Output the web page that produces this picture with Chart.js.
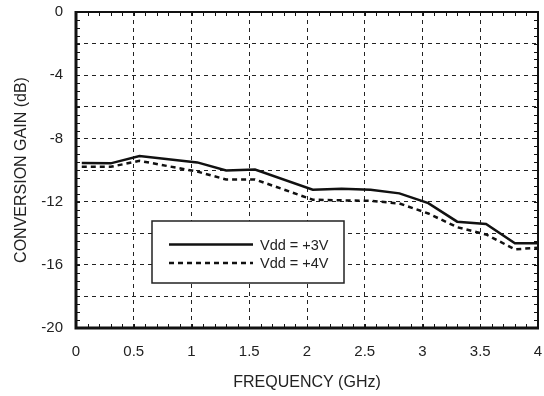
<!DOCTYPE html>
<html>
<head>
<meta charset="utf-8">
<script src="https://cdn.jsdelivr.net/npm/chart.js@4/dist/chart.umd.min.js"></script>
<style>
  html, body { margin: 0; padding: 0; background: #fff; }
  #wrap { width: 544px; height: 396px; }
</style>
</head>
<body>
<div id="wrap"><canvas id="gainChart" width="544" height="396"></canvas></div>
<script>
// valores
const freqGHz = [0.05, 0.3, 0.55, 1.05, 1.3, 1.55, 2.05, 2.3, 2.55, 2.8, 3.05, 3.3, 3.55, 3.8, 4.0];
const gain3V = [-9.55, -9.58, -9.12, -9.52, -10.03, -9.97, -11.25, -11.18, -11.25, -11.48, -12.1, -13.27, -13.42, -14.64, -14.64];
const gain4V = [-9.8, -9.8, -9.42, -10.1, -10.6, -10.6, -11.88, -11.92, -11.95, -12.12, -12.75, -13.62, -14.08, -15.02, -14.92];
const seriesLabels = ['Vdd = +3V', 'Vdd = +4V'];
const xTickLabels = ['0', '0.5', '1', '1.5', '2', '2.5', '3', '3.5', '4'];
const yTickLabels = ['0', '-4', '-8', '-12', '-16', '-20'];

const FONT = "'Liberation Sans', Arial, Helvetica, sans-serif";

function toPoints(xs, ys) {
  return xs.map((x, i) => ({ x: x, y: ys[i] }));
}

// moldura com marcas menores + legenda dentro da área
const framePlugin = {
  id: 'frame',
  afterDatasetsDraw(chart) {
    const ctx = chart.ctx;
    const ca = chart.chartArea;
    const xs = chart.scales.x;
    const ys = chart.scales.y;
    ctx.save();
    ctx.strokeStyle = '#111';
    ctx.lineWidth = 1;
    ctx.setLineDash([]);
    // marcas menores
    ctx.beginPath();
    for (let i = 1; i < 40; i++) {
      const px = Math.round(xs.getPixelForValue(i / 10)) + 0.5;
      ctx.moveTo(px, ca.bottom); ctx.lineTo(px, ca.bottom - 4);
      ctx.moveTo(px, ca.top); ctx.lineTo(px, ca.top + 4);
    }
    for (let i = 1; i < 40; i++) {
      const py = Math.round(ys.getPixelForValue(-i / 2)) + 0.5;
      ctx.moveTo(ca.left, py); ctx.lineTo(ca.left + 4, py);
      ctx.moveTo(ca.right, py); ctx.lineTo(ca.right - 4, py);
    }
    ctx.stroke();

    // caixa
    ctx.lineWidth = 2;
    ctx.strokeRect(ca.left, ca.top, ca.right - ca.left, ca.bottom - ca.top);
    ctx.lineWidth = 3;
    ctx.beginPath();
    ctx.moveTo(ca.left, ca.top - 1);
    ctx.lineTo(ca.left, ca.bottom);
    ctx.lineTo(ca.right + 1, ca.bottom);
    ctx.stroke();

    // legenda
    const bx = ca.left + 76, by = ca.top + 209, bw = 192, bh = 62;
    ctx.fillStyle = '#fff';
    ctx.fillRect(bx, by, bw, bh);
    ctx.lineWidth = 1.5;
    ctx.strokeStyle = '#222';
    ctx.strokeRect(bx, by, bw, bh);
    ctx.font = '14.5px ' + FONT;
    ctx.textBaseline = 'middle';
    ctx.textAlign = 'left';
    const rows = [by + 23.5, by + 42];
    chart.data.datasets.forEach((ds, i) => {
      ctx.strokeStyle = ds.borderColor;
      ctx.lineWidth = ds.borderWidth;
      ctx.setLineDash(ds.borderDash || []);
      ctx.beginPath();
      ctx.moveTo(bx + 17, rows[i]);
      ctx.lineTo(bx + 101, rows[i]);
      ctx.stroke();
      ctx.setLineDash([]);
      ctx.fillStyle = '#222';
      ctx.fillText(ds.label, bx + 108, rows[i] + 1);
    });
    ctx.restore();
  }
};

new Chart(document.getElementById('gainChart').getContext('2d'), {
  type: 'line',
  data: {
    datasets: [{
      label: seriesLabels[0],
      data: toPoints(freqGHz, gain3V),
      borderColor: '#111',
      borderWidth: 2.5,
      fill: false,
      tension: 0,
      pointRadius: 0
    }, {
      label: seriesLabels[1],
      data: toPoints(freqGHz, gain4V),
      borderColor: '#111',
      borderWidth: 2.5,
      borderDash: [5, 4],
      fill: false,
      tension: 0,
      pointRadius: 0
    }]
  },
  options: {
    responsive: false,
    animation: false,
    layout: {
      padding: { left: 0, right: 6, top: 12, bottom: 0 }
    },
    plugins: {
      legend: { display: false },
      tooltip: { enabled: false }
    },
    scales: {
      x: {
        type: 'linear',
        min: 0,
        max: 4,
        afterFit: (scale) => { scale.height = 68; },
        border: { display: false, dash: [4, 4] },
        grid: {
          color: (c) => (c.tick && (c.tick.value === 0 || c.tick.value === 4)) ? 'rgba(0,0,0,0)' : '#222',
          lineWidth: 1,
          drawTicks: true,
          tickLength: 15,
          tickColor: 'rgba(0,0,0,0)'
        },
        ticks: {
          stepSize: 0.5,
          padding: 0,
          maxRotation: 0,
          color: '#222',
          font: { family: FONT, size: 15 },
          callback: (v) => {
            const idx = Math.round(v * 2);
            return xTickLabels[idx] !== undefined ? xTickLabels[idx] : '';
          }
        },
        title: {
          display: true,
          text: 'FREQUENCY (GHz)',
          color: '#222',
          font: { family: FONT, size: 16 },
          padding: { top: 0, bottom: 4 }
        }
      },
      y: {
        min: -20,
        max: 0,
        afterFit: (scale) => { scale.width = 76; },
        border: { display: false, dash: [4, 4] },
        grid: {
          color: (c) => (c.tick && (c.tick.value === 0 || c.tick.value === -20)) ? 'rgba(0,0,0,0)' : '#222',
          lineWidth: 1,
          drawTicks: true,
          tickLength: 13,
          tickColor: 'rgba(0,0,0,0)'
        },
        ticks: {
          stepSize: 2,
          padding: 0,
          color: '#222',
          font: { family: FONT, size: 15 },
          callback: (v) => {
            if (v % 4 !== 0) return '';
            return yTickLabels[Math.round(-v / 4)];
          }
        },
        title: {
          display: true,
          text: 'CONVERSION GAIN (dB)',
          color: '#222',
          font: { family: FONT, size: 16 },
          padding: { top: 12, bottom: 0 }
        }
      }
    }
  },
  plugins: [framePlugin]
});
</script>
</body>
</html>
